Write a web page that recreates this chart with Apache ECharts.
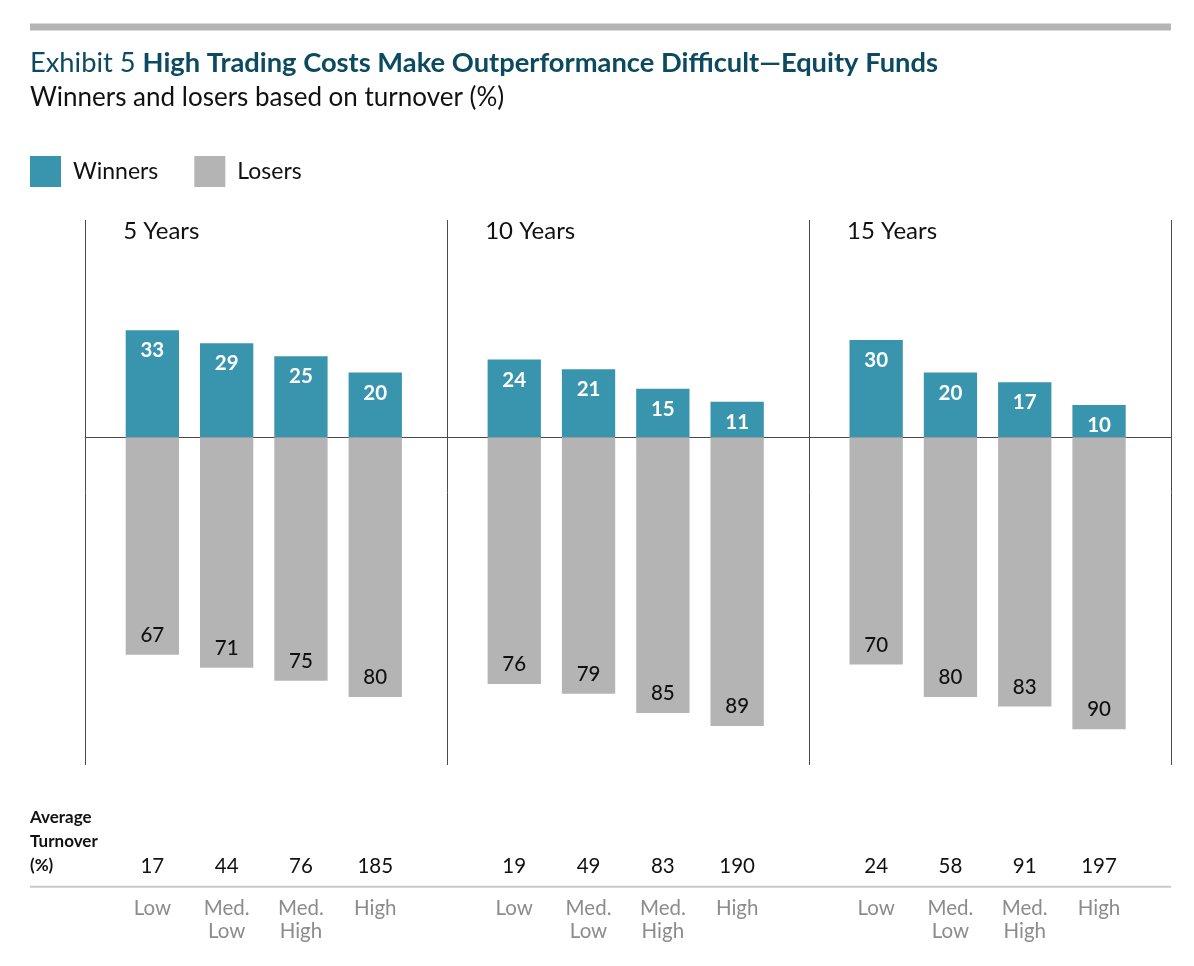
<!DOCTYPE html>
<html>
<head>
<meta charset="utf-8">
<title>High Trading Costs Make Outperformance Difficult</title>
<script src="https://cdn.jsdelivr.net/npm/echarts@6/dist/echarts.min.js"></script>
<style>
  html, body { margin: 0; padding: 0; background: #fff; }
  #chart { width: 1194px; height: 966px; }
</style>
</head>
<body>
<div id="chart"></div>
<script>
const periods = ["5 Years", "10 Years", "15 Years"];
const categories = ["Low", "Med.\nLow", "Med.\nHigh", "High"];
const winners5 = [33, 29, 25, 20];
const winners10 = [24, 21, 15, 11];
const winners15 = [30, 20, 17, 10];
const losers5 = [67, 71, 75, 80];
const losers10 = [76, 79, 85, 89];
const losers15 = [70, 80, 83, 90];
const turnover5 = [17, 44, 76, 185];
const turnover10 = [19, 49, 83, 190];
const turnover15 = [24, 58, 91, 197];

const winners = [winners5, winners10, winners15];
const losers = [losers5, losers10, losers15];
const turnover = [turnover5, turnover10, turnover15];

const TEAL = "#3995ae";
const GREY = "#b4b4b4";
const FONT = "Lato, 'Noto Sans', sans-serif";

const chart = echarts.init(document.getElementById("chart"));

const panelLeft = 85.3;
const panelWidth = 361.9;
const gridTop = 220;
const gridBottom = 966 - 765;
const yMin = -101;
const yMax = 67;

const grids = [
  // background grid: panel separators + zero line
  { left: panelLeft, width: panelWidth * 3, top: gridTop, bottom: gridBottom },
];
const xAxes = [
  {
    gridIndex: 0,
    type: "value",
    min: 0,
    max: 3,
    interval: 1,
    axisLine: { show: true, onZero: true, lineStyle: { color: "#4a4a4a", width: 1 } },
    axisTick: { show: false },
    axisLabel: { show: false },
    splitLine: { show: true, lineStyle: { color: "#4a4a4a", width: 1 } },
  },
];
const yAxes = [
  {
    gridIndex: 0,
    type: "value",
    min: yMin,
    max: yMax,
    axisLine: { show: false },
    axisTick: { show: false },
    axisLabel: { show: false },
    splitLine: { show: false },
  },
];
const series = [];

periods.forEach((p, i) => {
  const g = i + 1;
  grids.push({
    left: panelLeft + i * panelWidth + 29.9,
    width: 297.2,
    top: gridTop,
    bottom: gridBottom,
  });
  // category names
  xAxes.push({
    gridIndex: g,
    type: "category",
    position: "bottom",
    data: categories,
    axisLine: { show: false, onZero: false },
    axisTick: { show: false },
    axisLabel: {
      margin: 131.5,
      color: "#8c8c8c",
      fontFamily: FONT,
      fontSize: 20.5,
      lineHeight: 23,
      interval: 0,
    },
  });
  // average turnover numbers
  xAxes.push({
    gridIndex: g,
    type: "category",
    position: "bottom",
    data: turnover[i].map(String),
    axisLine: { show: false, onZero: false },
    axisTick: { show: false },
    axisLabel: {
      margin: 91.7,
      color: "#111",
      fontFamily: FONT,
      fontSize: 20.5,
      lineHeight: 20,
      interval: 0,
    },
  });
  yAxes.push({
    gridIndex: g,
    type: "value",
    min: yMin,
    max: yMax,
    show: false,
  });
  const xIdx = 1 + i * 2;
  series.push({
    name: "Winners",
    type: "bar",
    xAxisIndex: xIdx,
    yAxisIndex: g,
    data: winners[i],
    barWidth: 53.3,
    barGap: "-100%",
    itemStyle: { color: TEAL },
    label: {
      show: true,
      position: "insideTop",
      distance: 10,
      color: "#fff",
      fontFamily: FONT,
      fontWeight: "bold",
      fontSize: 20.5,
    },
  });
  series.push({
    name: "Losers",
    type: "bar",
    xAxisIndex: xIdx,
    yAxisIndex: g,
    data: losers[i].map((v) => -v),
    barWidth: 53.3,
    barGap: "-100%",
    itemStyle: { color: GREY },
    label: {
      show: true,
      position: "insideBottom",
      distance: 9,
      color: "#111",
      fontFamily: FONT,
      fontWeight: 500,
      fontSize: 20.5,
      formatter: (d) => Math.abs(d.value),
    },
  });
});

const titles = [
  {
    text: "{a|Exhibit 5 }{b|High Trading Costs Make Outperformance Difficult\u2014Equity Funds}",
    left: 25,
    top: 45,
    textStyle: {
      rich: {
        a: { fontFamily: FONT, fontSize: 27.3, color: "#0b4a60", fontWeight: "normal" },
        b: { fontFamily: FONT, fontSize: 27.3, color: "#0b4a60", fontWeight: "bold" },
      },
    },
  },
  {
    text: "Winners and losers based on turnover (%)",
    left: 25,
    top: 80,
    textStyle: { fontFamily: FONT, fontSize: 26, color: "#111", fontWeight: "normal" },
  },
];
periods.forEach((p, i) => {
  titles.push({
    text: p,
    left: panelLeft + i * panelWidth + 33,
    top: 214,
    textStyle: { fontFamily: FONT, fontSize: 24, color: "#111", fontWeight: "normal" },
  });
});

chart.setOption({
  animation: false,
  backgroundColor: "#fff",
  title: titles,
  legend: {
    data: ["Winners", "Losers"],
    left: 25,
    top: 151,
    icon: "rect",
    itemWidth: 31,
    itemHeight: 31,
    itemGap: 36,
    textStyle: {
      fontFamily: FONT,
      fontSize: 23,
      color: "#111",
      padding: [0, 0, 0, 7],
    },
  },
  grid: grids,
  xAxis: xAxes,
  yAxis: yAxes,
  series: series,
  graphic: [
    {
      type: "rect",
      shape: { x: 30, y: 23.5, width: 1141, height: 7 },
      style: { fill: GREY },
    },
    {
      type: "line",
      shape: { x1: 30, y1: 886.7, x2: 1171, y2: 886.7 },
      style: { stroke: "#c8c8c8", lineWidth: 2 },
    },
    {
      type: "text",
      left: 30,
      top: 806,
      style: {
        text: "Average\nTurnover\n(%)",
        fontFamily: FONT,
        fontSize: 17,
        fontWeight: "bold",
        lineHeight: 24,
        fill: "#111",
      },
    },
  ],
});

window.addEventListener("resize", () => chart && chart.resize());
</script>
</body>
</html>
